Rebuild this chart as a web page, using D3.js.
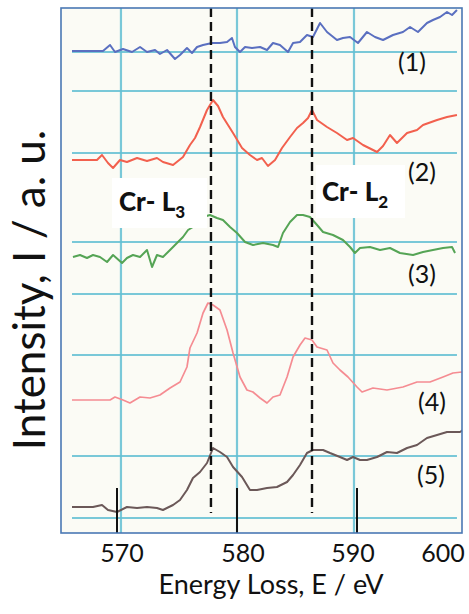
<!DOCTYPE html>
<html>
<head>
<meta charset="utf-8">
<script src="https://cdn.jsdelivr.net/npm/d3@7"></script>
<style>
  body { margin: 0; background: #fff; }
  text { font-family: Lato, "Noto Sans", sans-serif; fill: #111; }
</style>
</head>
<body>
<script>
// energy loss (eV) and intensity (a.u., stacked)
var energy1 = [566.25,568.83,569.42,569.83,570.5,571.25,571.92,572.5,573.17,573.58,574.17,574.83,575.25,575.83,576.25,576.67,577.17,577.92,578.58,579.17,579.58,579.83,580.25,580.67,581.25,581.92,582.5,583.0,583.58,584.25,584.67,585.25,585.83,586.33,586.92,587.5,588.33,588.83,589.42,590.08,590.83,591.5,592.17,593.0,593.83,594.42,595.08,595.83,596.33,596.92,597.5,597.92,598.33];
var intensity1 = [96.4,96.4,97.6,96.2,96.8,96.2,97.2,96.2,96.6,95.8,96.6,94.8,95.6,97.0,96.0,97.2,97.6,98.0,98.0,98.2,99.0,97.2,96.2,97.2,97.0,97.2,96.6,98.0,97.6,96.2,98.0,98.2,99.6,99.2,102.0,100.2,98.6,99.0,99.2,98.0,100.2,99.2,98.6,99.6,100.2,101.2,100.2,102.0,102.6,103.2,104.2,103.6,104.6];

var energy2 = [566.25,568.33,568.75,569.25,569.67,570.25,570.83,571.67,572.5,573.33,573.83,574.67,575.5,576.08,576.5,576.92,577.5,578.0,578.42,578.83,579.25,579.67,580.42,581.08,581.67,582.08,582.58,583.17,583.75,584.42,585.0,585.5,585.92,586.25,586.67,587.5,588.33,589.17,589.67,590.5,591.67,592.17,592.75,593.33,594.17,595.0,595.5,596.67,597.5,598.33];
var intensity2 = [74.6,74.6,75.6,74.0,73.0,74.6,74.2,75.0,74.4,75.0,74.2,73.6,75.2,77.6,79.0,81.2,84.6,86.6,85.4,83.2,81.6,80.0,77.0,75.6,74.6,75.0,73.4,74.6,77.0,79.2,81.0,82.0,83.0,84.6,82.6,81.2,80.0,78.6,79.0,77.6,76.2,77.4,79.6,78.0,80.0,80.6,81.6,82.6,83.2,83.6];

var energy3 = [566.33,566.92,567.5,568.0,568.58,569.17,569.67,570.42,570.83,571.33,571.92,572.5,572.92,573.33,573.83,574.42,575.0,575.5,575.92,576.33,577.17,577.75,578.33,578.83,579.42,580.0,580.67,581.33,582.17,583.0,583.42,583.83,584.42,585.0,585.5,586.08,586.67,587.17,588.0,588.83,589.42,589.83,590.25,591.08,591.92,592.75,593.58,594.67,595.5,596.33,597.17,597.92,598.17];
var intensity3 = [55.2,55.6,55.0,55.6,55.2,54.2,55.6,54.0,55.0,55.6,55.2,56.6,53.2,55.6,55.2,56.6,58.0,59.2,60.6,61.2,63.2,63.6,63.0,62.6,61.2,60.0,58.2,57.6,58.0,57.6,57.2,60.0,62.2,63.6,63.6,63.2,61.6,60.2,59.6,58.6,57.2,56.0,57.0,57.2,56.6,57.0,56.0,55.6,56.2,56.6,57.0,57.2,56.0];

var energy4 = [566.25,569.42,569.83,570.5,571.08,571.92,572.75,573.58,574.42,575.25,575.83,576.08,576.67,577.17,577.58,578.0,578.58,579.17,579.67,580.25,580.83,581.33,581.92,582.5,583.0,583.58,584.17,584.67,585.25,585.67,586.25,586.67,587.5,588.0,588.58,589.25,590.0,590.42,591.33,592.5,593.83,595.0,596.08,597.17,598.0,598.75];
var intensity4 = [26.6,26.6,27.2,26.6,26.0,27.2,27.0,27.6,29.0,30.2,33.2,37.0,40.0,44.0,46.0,45.6,44.6,40.6,36.0,31.2,28.6,28.2,27.0,26.0,27.2,27.6,31.2,35.2,37.6,39.0,38.6,37.2,36.6,34.0,32.6,31.2,29.2,28.2,29.0,28.6,29.2,30.2,30.2,31.2,32.0,32.2];

var energy5 = [566.25,568.0,568.75,569.25,570.0,570.83,571.67,572.5,573.33,573.83,574.67,575.25,575.83,576.33,576.92,577.5,578.0,578.58,579.17,579.67,580.42,581.08,581.67,582.5,583.33,584.17,584.67,585.25,585.83,586.33,587.17,587.75,588.58,589.17,589.67,590.25,590.83,591.67,592.5,593.33,594.17,595.0,595.83,596.67,597.5,598.58,598.83];
var intensity5 = [5.2,5.2,5.6,4.6,4.2,5.2,5.0,5.2,5.0,4.6,5.6,6.6,8.6,11.0,12.2,14.0,17.0,16.2,15.2,13.2,11.2,8.6,8.6,9.0,9.2,10.2,11.6,13.6,16.0,16.6,16.6,16.0,15.2,14.6,15.2,14.6,14.6,15.2,16.2,16.0,17.0,17.6,19.0,19.6,20.2,20.2,20.6];

var spectrumNames = ["(1)", "(2)", "(3)", "(4)", "(5)"];
var spectrumColors = ["#5a6fc0", "#f2604e", "#55a455", "#f58c92", "#6b5858"];

var edgeEnergies = [577.83, 586.25];        // Cr-L3, Cr-L2
var edgeNames = ["L3", "L2"];
var tickValues = [570, 580, 590, 600];
var tickMarks = [570, 580, 590];
var gridEnergies = [570.33, 580, 589.75];
var gridLevels = [96.2, 88.4, 76, 58.2, 47.8, 35.6, 15.4, 3];

var W = 469, H = 614;
var frame = {left: 61, top: 8, right: 462, bottom: 533};

var x = d3.scaleLinear().domain([570, 590]).range([117, 357]);
var y = d3.scaleLinear().domain([0, 105]).range([frame.bottom, frame.top]);
// tick labels of the pasted axis are not evenly spaced
var xLabel = d3.scaleLinear().domain(tickValues).range([122, 243, 353, 443]);

var svg = d3.select("body").append("svg")
  .attr("width", W)
  .attr("height", H);

svg.append("defs").append("clipPath").attr("id", "plot")
  .append("rect")
  .attr("x", frame.left).attr("y", frame.top)
  .attr("width", frame.right - frame.left)
  .attr("height", frame.bottom - frame.top);

svg.append("rect")
  .attr("x", frame.left).attr("y", frame.top)
  .attr("width", frame.right - frame.left)
  .attr("height", frame.bottom - frame.top)
  .attr("fill", "#fbfbf5");

var plot = svg.append("g").attr("clip-path", "url(#plot)");

// chart-paper grid
plot.selectAll(".vgrid").data(gridEnergies).enter().append("line")
  .attr("x1", d => x(d)).attr("x2", d => x(d))
  .attr("y1", frame.top).attr("y2", frame.bottom)
  .attr("stroke", "#63c0d4").attr("stroke-width", 2.2).attr("opacity", 0.85);

plot.selectAll(".hgrid").data(gridLevels).enter().append("line")
  .attr("x1", x(566.25)).attr("x2", x(598.33))
  .attr("y1", d => y(d)).attr("y2", d => y(d))
  .attr("stroke", "#63c0d4").attr("stroke-width", 2.2).attr("opacity", 0.85);

var spectra = [
  [energy1, intensity1], [energy2, intensity2], [energy3, intensity3],
  [energy4, intensity4], [energy5, intensity5]
];

var line = d3.line()
  .x(d => x(d[0]))
  .y(d => y(d[1]))
  .curve(d3.curveLinear);

spectra.forEach(function(s, i) {
  var pts = d3.zip(s[0], s[1]);
  plot.append("path")
    .datum(pts)
    .attr("fill", "none")
    .attr("stroke", spectrumColors[i])
    .attr("stroke-width", i === 3 ? 1.7 : 2)
    .attr("stroke-linejoin", "round")
    .attr("d", line);
});

// white boxes behind the edge labels
var boxes = [[112, 178, 95, 50], [316, 165, 89, 53]];
boxes.forEach(function(b) {
  plot.append("rect")
    .attr("x", b[0]).attr("y", b[1]).attr("width", b[2]).attr("height", b[3])
    .attr("fill", "#fff");
});

// edge positions
plot.selectAll(".edge").data(edgeEnergies).enter().append("line")
  .attr("x1", d => x(d)).attr("x2", d => x(d))
  .attr("y1", frame.top).attr("y2", y(4))
  .attr("stroke", "#111").attr("stroke-width", 2.4)
  .attr("stroke-dasharray", "9,5");

// axis ticks drawn up from the bottom edge
plot.selectAll(".tick").data(tickMarks).enter().append("line")
  .attr("x1", d => x(d)).attr("x2", d => x(d))
  .attr("y1", y(0)).attr("y2", y(9))
  .attr("stroke", "#111").attr("stroke-width", 2);

svg.append("rect")
  .attr("x", frame.left).attr("y", frame.top)
  .attr("width", frame.right - frame.left)
  .attr("height", frame.bottom - frame.top)
  .attr("fill", "none")
  .attr("stroke", "#4a78b4")
  .attr("stroke-width", 1.6);

// edge labels
var edgeLabelPos = [[119, 211], [322, 201]];
edgeNames.forEach(function(n, i) {
  var t = svg.append("text")
    .attr("x", edgeLabelPos[i][0]).attr("y", edgeLabelPos[i][1])
    .attr("font-size", 26).attr("font-weight", 900);
  t.append("tspan").text("Cr- " + n[0]);
  t.append("tspan").attr("font-size", 17).attr("dy", 7).text(n[1]);
});

// spectrum numbers
var namePos = [[412, 71], [422, 181], [422, 283], [432, 411], [431, 484]];
spectrumNames.forEach(function(n, i) {
  svg.append("text")
    .attr("x", namePos[i][0]).attr("y", namePos[i][1])
    .attr("text-anchor", "middle")
    .attr("font-size", 25)
    .text(n);
});

// x tick labels
svg.selectAll(".xlab").data(tickValues).enter().append("text")
  .attr("x", d => xLabel(d)).attr("y", 562)
  .attr("text-anchor", "middle")
  .attr("font-size", 25)
  .text(d => d);

svg.append("text")
  .attr("x", 271).attr("y", 594)
  .attr("text-anchor", "middle")
  .attr("font-size", 27)
  .text("Energy Loss, E / eV");

svg.append("text")
  .attr("transform", "translate(45,290) rotate(-90)")
  .attr("text-anchor", "middle")
  .attr("font-size", 44)
  .text("Intensity, I / a. u.");
</script>
</body>
</html>
